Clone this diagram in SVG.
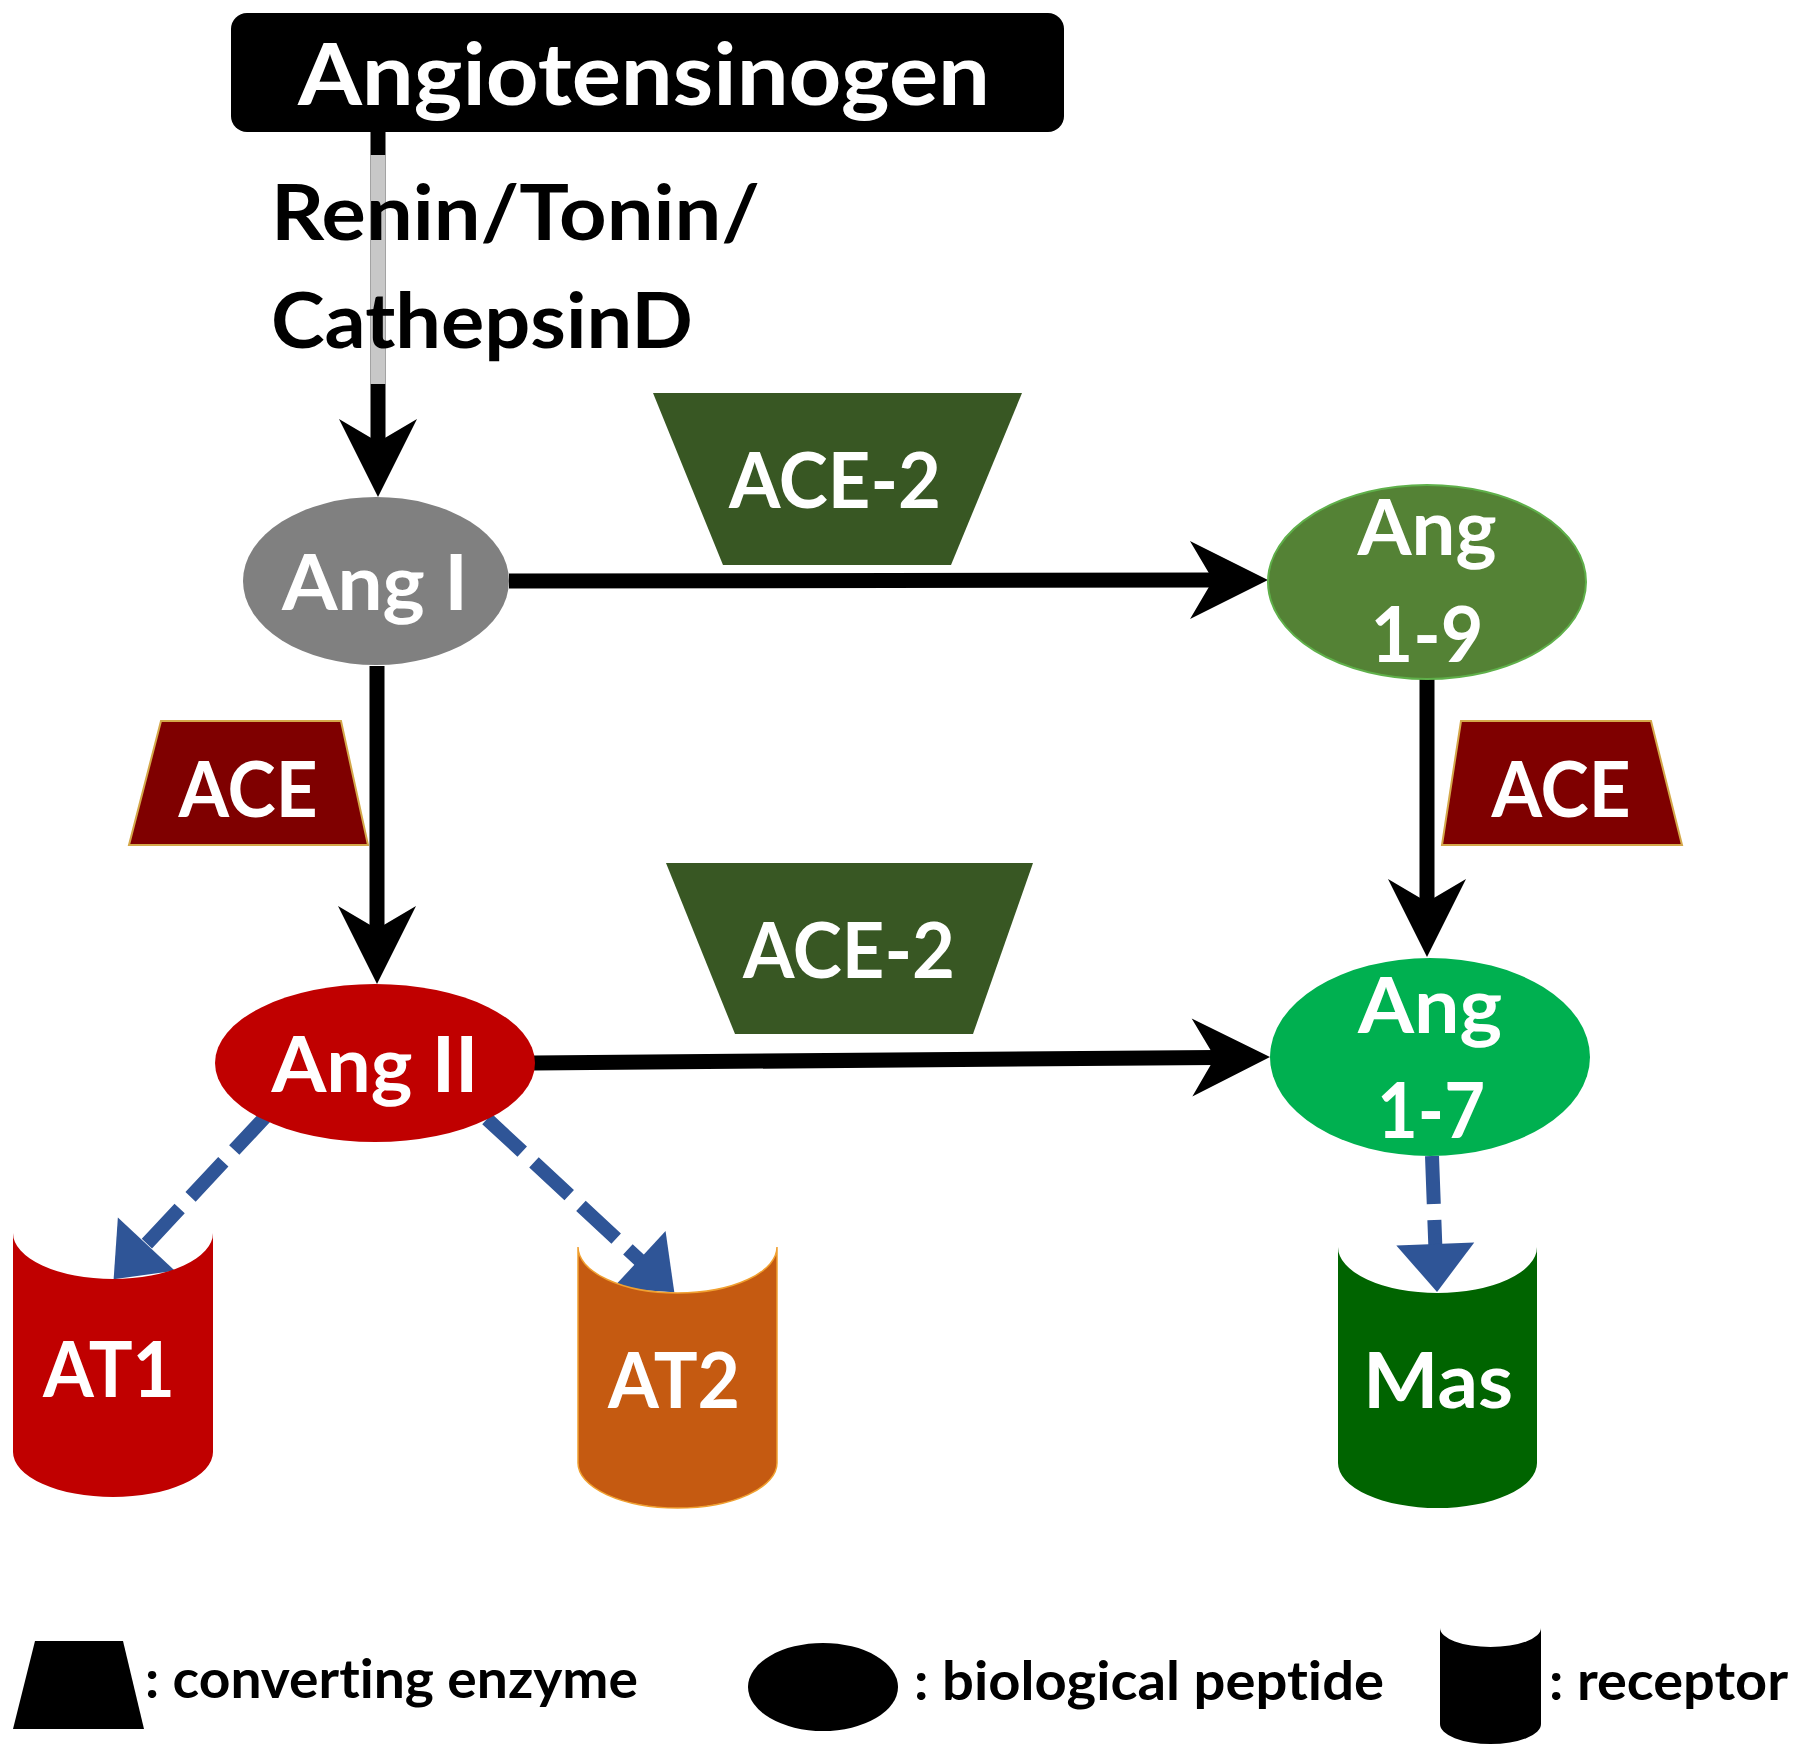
<svg xmlns="http://www.w3.org/2000/svg" width="1800" height="1756" viewBox="0 0 1800 1756">
<style>
.t{font-family:Lato,"Liberation Sans",sans-serif;font-weight:700;font-variant-ligatures:none}
.w{fill:#fff;text-anchor:middle;font-size:76px}
.k{fill:#000}
.ace2{fill:#385723}
.ace{fill:#7f0000;stroke:#d4a84a;stroke-width:2}
.bl{stroke:#000;stroke-width:15;fill:none}
.bd{stroke:#2f5597;stroke-width:14;fill:none;stroke-dasharray:48 16}
</style>
<defs>
<marker id="ah" markerUnits="userSpaceOnUse" viewBox="-82 -42 86 84" refX="-55" refY="0" markerWidth="86" markerHeight="84" orient="auto">
<path d="M0,0 L-78,-39 L-55,0 L-78,39 Z" fill="#000"/>
</marker>
<marker id="bh" markerUnits="userSpaceOnUse" viewBox="-50 -42 52 84" refX="-47" refY="0" markerWidth="52" markerHeight="84" orient="auto">
<path d="M0,0 L-48,-39 L-48,39 Z" fill="#2f5597"/>
</marker>
</defs>
<rect width="1800" height="1756" fill="#fff"/>

<g id="connectors">
<line class="bl" x1="378" y1="131" x2="378" y2="442" marker-end="url(#ah)"/>
<line x1="378" y1="155" x2="378" y2="384" stroke="#c8c8c8" stroke-width="15"/>
<line class="bl" x1="509" y1="581" x2="1213" y2="580" marker-end="url(#ah)"/>
<line class="bl" x1="377" y1="666" x2="377" y2="929" marker-end="url(#ah)"/>
<line class="bl" x1="1427" y1="679" x2="1427" y2="902" marker-end="url(#ah)"/>
<line class="bl" x1="534" y1="1063" x2="1215" y2="1057.4" marker-end="url(#ah)"/>
<line class="bd" x1="267" y1="1115" x2="145.7" y2="1244.9" marker-end="url(#bh)"/>
<line class="bd" x1="487" y1="1119" x2="639.8" y2="1260.4" marker-end="url(#bh)"/>
<line class="bd" x1="1432" y1="1156" x2="1435.3" y2="1245" marker-end="url(#bh)"/>
</g>

<g id="enzyme-label">
<text class="t k" x="271" y="240" font-size="76" textLength="489" lengthAdjust="spacingAndGlyphs">Renin/Tonin/</text>
<text class="t k" x="271" y="348" font-size="76" textLength="422" lengthAdjust="spacingAndGlyphs">CathepsinD</text>
</g>

<g id="angiotensinogen">
<rect x="231" y="13" width="833" height="119" rx="16" fill="#000"/>
<text class="t w" x="644" y="105" style="font-size:87px" textLength="692" lengthAdjust="spacingAndGlyphs">Angiotensinogen</text>
</g>

<g id="ace2-top">
<polygon class="ace2" points="653,393 1022,393 951,565 723,565"/>
<text class="t w" x="835" y="508" textLength="212" lengthAdjust="spacingAndGlyphs">ACE-2</text>
</g>

<g id="ace2-bottom">
<polygon class="ace2" points="666,863 1033,863 973,1034 735,1034"/>
<text class="t w" x="849" y="978" textLength="212" lengthAdjust="spacingAndGlyphs">ACE-2</text>
</g>

<g id="ace-left">
<polygon class="ace" points="161,721 341,721 368,845 129,845"/>
<text class="t w" x="248" y="817" textLength="139" lengthAdjust="spacingAndGlyphs">ACE</text>
</g>

<g id="ace-right">
<polygon class="ace" points="1461,721 1651,721 1682,845 1442,845"/>
<text class="t w" x="1561" y="817" textLength="139" lengthAdjust="spacingAndGlyphs">ACE</text>
</g>

<g id="ang-i">
<ellipse cx="376" cy="581" rx="133" ry="84" fill="#808080"/>
<text class="t w" x="375" y="610" textLength="186" lengthAdjust="spacingAndGlyphs">Ang I</text>
</g>

<g id="ang-1-9">
<ellipse cx="1427" cy="582" rx="159" ry="97" fill="#548235" stroke="#5fb04a" stroke-width="2"/>
<text class="t w" x="1427" y="555" textLength="139" lengthAdjust="spacingAndGlyphs">Ang</text>
<text class="t w" x="1427" y="662" textLength="113" lengthAdjust="spacingAndGlyphs">1-9</text>
</g>

<g id="ang-ii">
<ellipse cx="375" cy="1063" rx="160" ry="79" fill="#c00000"/>
<text class="t w" x="375" y="1092" textLength="207" lengthAdjust="spacingAndGlyphs">Ang II</text>
</g>

<g id="ang-1-7">
<ellipse cx="1430" cy="1057" rx="160" ry="99" fill="#00b050"/>
<text class="t w" x="1430" y="1033" textLength="144" lengthAdjust="spacingAndGlyphs">Ang</text>
<text class="t w" x="1431" y="1138" textLength="108" lengthAdjust="spacingAndGlyphs">1-7</text>
</g>

<g id="at1">
<path d="M13,1233 A100,46 0 0 0 213,1233 L213,1452 A100,45 0 0 1 13,1452 Z" fill="#c00000"/>
<text class="t w" x="109" y="1397" textLength="132" lengthAdjust="spacingAndGlyphs">AT1</text>
</g>

<g id="at2">
<path d="M578,1247 A99.5,46 0 0 0 777,1247 L777,1463 A99.5,45 0 0 1 578,1463 Z" fill="#c55a11" stroke="#f0a030" stroke-width="1.5"/>
<text class="t w" x="674" y="1408" textLength="132" lengthAdjust="spacingAndGlyphs">AT2</text>
</g>

<g id="mas">
<path d="M1338,1247 A99.5,46 0 0 0 1537,1247 L1537,1463 A99.5,45 0 0 1 1338,1463 Z" fill="#006400"/>
<text class="t w" x="1438" y="1408" textLength="150" lengthAdjust="spacingAndGlyphs">Mas</text>
</g>

<g id="legend">
<polygon points="35,1641 123,1641 144,1729 13,1729" fill="#000"/>
<text class="t k" x="145" y="1698" font-size="54" textLength="493" lengthAdjust="spacingAndGlyphs">: converting enzyme</text>
<ellipse cx="823" cy="1687" rx="75" ry="44" fill="#000"/>
<text class="t k" x="914" y="1700" font-size="54" textLength="470" lengthAdjust="spacingAndGlyphs">: biological peptide</text>
<path d="M1440,1628 A50.5,19 0 0 0 1541,1628 L1541,1724 A50.5,20 0 0 1 1440,1724 Z" fill="#000"/>
<text class="t k" x="1549" y="1700" font-size="54" textLength="239" lengthAdjust="spacingAndGlyphs">: receptor</text>
</g>
</svg>
